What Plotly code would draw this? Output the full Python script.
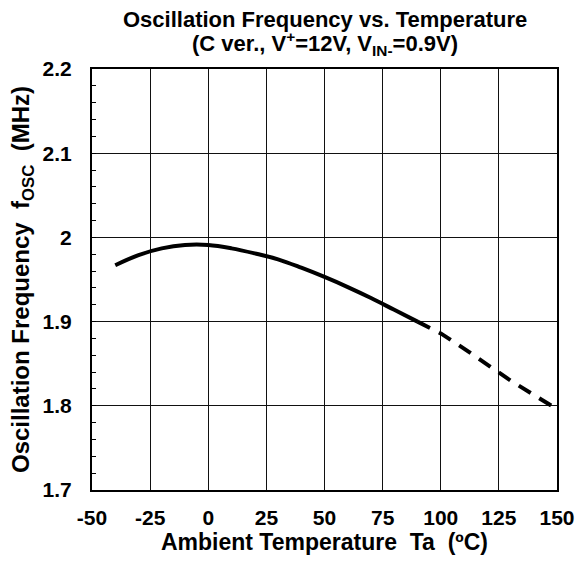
import plotly.graph_objects as go

# Data
temp_solid = [-40, -30, -20, -10, 0, 10, 20, 30, 40, 50, 60, 70, 80, 90]
freq_solid = [1.967, 1.979, 1.987, 1.991, 1.991, 1.987, 1.981, 1.974, 1.964, 1.953, 1.941, 1.928, 1.914, 1.900]
temp_dash = [90, 100, 110, 120, 130, 140, 150]
freq_dash = [1.900, 1.886, 1.868, 1.849, 1.830, 1.813, 1.796]

x_ticks = [-50, -25, 0, 25, 50, 75, 100, 125, 150]
y_ticks = [1.7, 1.8, 1.9, 2.0, 2.1, 2.2]
y_ticklabels = ["1.7", "1.8", "1.9", "2", "2.1", "2.2"]

title_line1 = "Oscillation Frequency vs. Temperature"
title_line2 = "(C ver., V<sup>+</sup>=12V, V<sub>IN-</sub>=0.9V)"

FONT = "Liberation Sans, Arial, sans-serif"
BOLD = dict(family=FONT, weight="bold", color="black")

fig = go.Figure()
fig.add_trace(go.Scatter(x=temp_solid, y=freq_solid, mode="lines",
                         line=dict(color="black", width=4, shape="spline"),
                         showlegend=False))
fig.add_trace(go.Scatter(x=temp_dash, y=freq_dash, mode="lines",
                         line=dict(color="black", width=4, dash="14px,10px"),
                         showlegend=False))

fig.update_layout(
    width=576, height=562,
    margin=dict(l=92, r=19, t=69, b=72),
    paper_bgcolor="white", plot_bgcolor="white",
    font=dict(family=FONT, color="black"),
    xaxis=dict(range=[-50, 150], tickvals=x_ticks, ticktext=[str(v) for v in x_ticks],
               automargin=False,
               showgrid=True, gridcolor="#111", gridwidth=1,
               showline=True, linecolor="black", linewidth=2, mirror=True,
               ticks="", zeroline=False, ticklabelstandoff=8,
               tickfont=dict(size=21, **BOLD),
               title=dict(text="Ambient Temperature  Ta  (ºC)",
                          font=dict(size=23, **BOLD), standoff=2)),
    yaxis=dict(range=[1.7, 2.2], tickvals=y_ticks, ticktext=y_ticklabels,
               automargin=False,
               showgrid=True, gridcolor="#111", gridwidth=1,
               showline=True, linecolor="black", linewidth=2, mirror=True,
               ticks="inside", ticklen=4, tickcolor="black", zeroline=False,
               ticklabelstandoff=14,
               minor=dict(dtick=0.02, ticks="inside", ticklen=4, tickcolor="black", showgrid=False),
               tickfont=dict(size=21, **BOLD),
               title=dict(text="Oscillation Frequency  f<sub>OSC</sub>  (MHz)",
                          font=dict(size=24, **BOLD), standoff=6)),
)

fig.add_annotation(x=0.5, y=1, xref="paper", yref="paper", yanchor="middle", yshift=50,
                   text=title_line1, showarrow=False, font=dict(size=22, **BOLD))
fig.add_annotation(x=0.5, y=1, xref="paper", yref="paper", yanchor="middle", yshift=26,
                   text=title_line2, showarrow=False, font=dict(size=22, **BOLD))

fig.write_html("out.html")
